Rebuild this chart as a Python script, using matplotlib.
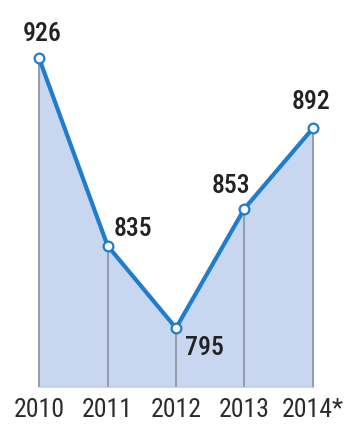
import matplotlib.pyplot as plt

years = [2010, 2011, 2012, 2013, 2014]
year_labels = ["2010", "2011", "2012", "2013", "2014*"]
values = [926, 835, 795, 853, 892]
# label offsets from each point, in pixels
label_offsets = [(3, 24), (25, 17), (28, -20), (-14, 23), (-2, 26)]

plt.rcParams["font.family"] = ["Roboto Condensed", "Archivo Narrow",
                               "Sofia Sans Condensed", "DejaVu Sans"]

fig = plt.figure(figsize=(3.52, 4.26), dpi=100)
ax = fig.add_axes([0, 0.0915, 1, 0.9085])
ax.set_xlim(2009.43, 2014.57)
ax.set_ylim(766.4, 954.2)

base = ax.get_ylim()[0]
ax.fill_between(years, values, base, color="#c8d7ef", zorder=1)
ax.vlines(years, base, values, color="#8d97a6", linewidth=1.3, zorder=2)
ax.plot([years[0], years[-1]], [base, base], color="#a9b6c8", linewidth=1, zorder=2)
ax.plot(years, values, color="#1f7dcc", linewidth=3, zorder=3,
        marker="o", markersize=7, markerfacecolor="white",
        markeredgecolor="#1f7dcc", markeredgewidth=1.6,
        solid_capstyle="round", clip_on=False)

for year, value, (dx, dy) in zip(years, values, label_offsets):
    ax.annotate(str(value), (year, value), xytext=(dx, dy),
                textcoords="offset pixels", ha="center", va="center",
                fontsize=18.5, fontweight="medium", color="#222222")

for year, label in zip(years, year_labels):
    fig.text(ax.transData.transform((year, 0))[0] / fig.bbox.width, 0.0376, label,
             ha="center", va="center", fontsize=18.5, color="#2b2b2b")

ax.axis("off")
fig.savefig("out.png", dpi=100)
